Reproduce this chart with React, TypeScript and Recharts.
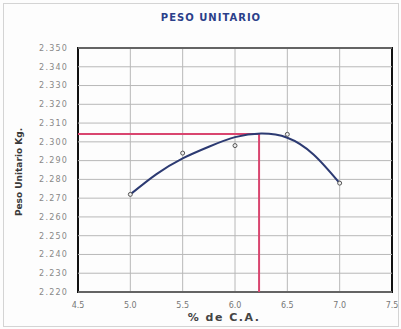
import React from "react";
import {
  ComposedChart,
  Line,
  Scatter,
  XAxis,
  YAxis,
  CartesianGrid,
  ReferenceLine,
  ReferenceArea,
  Label,
} from "recharts";

// Lab points (% asphalt content vs unit weight)
const asphaltPct = [5.0, 5.5, 6.0, 6.5, 7.0];
const unitWeight = [2.272, 2.294, 2.298, 2.304, 2.278];

// Fitted curve
const curvePct = [5.0, 5.25, 5.5, 5.75, 6.0, 6.25, 6.5, 6.75, 7.0];
const curveWeight = [2.272, 2.2828, 2.2912, 2.2974, 2.3025, 2.3044, 2.3022, 2.2933, 2.278];

// Optimum marker (red lines)
const optimumPct = 6.23;
const optimumWeight = 2.3042;

const xTicks = [4.5, 5.0, 5.5, 6.0, 6.5, 7.0, 7.5];
const yTicks = [
  2.22, 2.23, 2.24, 2.25, 2.26, 2.27, 2.28, 2.29, 2.3, 2.31, 2.32, 2.33, 2.34, 2.35,
];

const title = "PESO UNITARIO";
const yLabel = "Peso Unitario Kg.";
const xLabel = "% de C.A.";

const points = asphaltPct.map((x, i) => ({ x, y: unitWeight[i] }));
const curve = curvePct.map((x, i) => ({ x, y: curveWeight[i] }));

const FONT = "'DejaVu Sans', Arial, sans-serif";

export default function App() {
  return (
    <div
      style={{
        position: "absolute",
        left: 0,
        top: 0,
        width: 401,
        height: 329,
        background: "#fdfdfd",
        fontFamily: FONT,
      }}
    >
      <div
        style={{
          position: "absolute",
          left: 3,
          top: 3,
          width: 394,
          height: 322,
          border: "1px solid #d4d4d4",
        }}
      />
      <div
        style={{
          position: "absolute",
          left: 0,
          width: 422,
          top: 12,
          textAlign: "center",
          fontSize: 10,
          lineHeight: "12px",
          fontWeight: 900,
          letterSpacing: 1,
          color: "#2b3f8a",
        }}
      >
        {title}
      </div>
      <div style={{ position: "absolute", left: 0, top: 0 }}>
        <ComposedChart
          width={401}
          height={329}
          margin={{ top: 48, right: 9, bottom: 12, left: 5 }}
        >
          <CartesianGrid stroke="#b8b8b8" strokeWidth={1} horizontal={false} />
          {yTicks.map((t) => (
            <ReferenceLine key={t} y={t} stroke="#b8b8b8" strokeWidth={1} />
          ))}
          <XAxis
            type="number"
            dataKey="x"
            domain={[4.5, 7.5]}
            ticks={xTicks}
            tickFormatter={(v: number) => v.toFixed(1)}
            allowDataOverflow
            axisLine={false}
            tickLine={false}
            tickSize={0}
            tickMargin={10}
            height={25}
            tick={{ fontSize: 8, fill: "#777", fontFamily: FONT }}
          >
            <Label
              content={() => (
                <text
                  x={224}
                  y={321}
                  textAnchor="middle"
                  fontSize={11}
                  fontWeight="bold"
                  letterSpacing={1.5}
                  fontFamily={FONT}
                  fill="#444"
                >
                  {xLabel}
                </text>
              )}
            />
          </XAxis>
          <YAxis
            type="number"
            dataKey="y"
            domain={[2.22, 2.35]}
            ticks={yTicks}
            tickFormatter={(v: number) => v.toFixed(3)}
            allowDataOverflow
            axisLine={false}
            tickLine={false}
            tickSize={0}
            tickMargin={10}
            width={73}
            tick={{ fontSize: 8, fill: "#888", fontFamily: FONT, letterSpacing: 1.2 }}
          >
            <Label
              content={() => (
                <text
                  x={21.5}
                  y={172}
                  transform="rotate(-90 21.5 172)"
                  textAnchor="middle"
                  fontSize={9}
                  fontWeight="bold"
                  fontFamily={FONT}
                  fill="#3a3a3a"
                >
                  {yLabel}
                </text>
              )}
            />
          </YAxis>
          <ReferenceLine
            segment={[
              { x: 4.5, y: optimumWeight },
              { x: optimumPct, y: optimumWeight },
            ]}
            stroke="#d9456f"
            strokeWidth={2}
          />
          <ReferenceLine
            segment={[
              { x: optimumPct, y: 2.22 },
              { x: optimumPct, y: optimumWeight },
            ]}
            stroke="#d9456f"
            strokeWidth={2}
          />
          <ReferenceArea
            x1={4.5}
            x2={7.5}
            y1={2.22}
            y2={2.35}
            fill="none"
            fillOpacity={0}
            stroke="#111"
            strokeWidth={2}
          />
          <Line
            data={curve}
            dataKey="y"
            type="natural"
            stroke="#2c3a72"
            strokeWidth={2}
            dot={false}
            activeDot={false}
            isAnimationActive={false}
          />
          <Scatter
            data={points}
            dataKey="y"
            fill="#ffffff"
            stroke="#555"
            strokeWidth={1}
            shape={(p: any) => (
              <circle cx={p.cx} cy={p.cy} r={2} fill="#eee" stroke="#555" strokeWidth={1} />
            )}
            isAnimationActive={false}
          />
        </ComposedChart>
      </div>
    </div>
  );
}
